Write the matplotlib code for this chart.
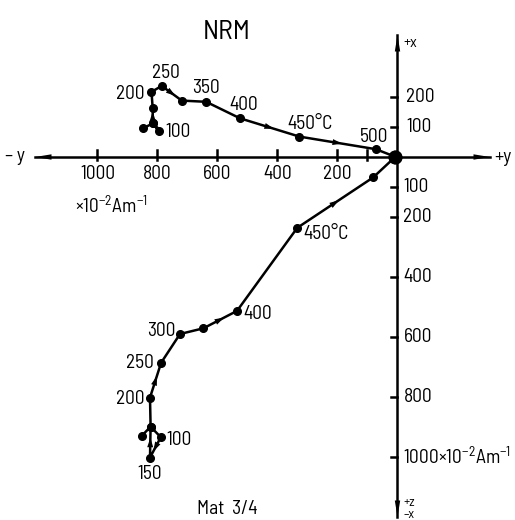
import matplotlib
matplotlib.use("Agg")
import matplotlib.pyplot as plt
from matplotlib import font_manager
import numpy as np

# ---------------- data (units: 10^-2 A/m) ----------------
# horizontal projection (north x vs east y); negative h = -y side
hor_h = [-847, -816, -794, -816, -816, -820, -786, -719, -638, -525, -327, -72, -8]
hor_v = [96, 112, 88, 112, 162, 217, 237, 188, 184, 129, 68, 26, 1]
hor_labels = ["", "", "100", "", "", "200", "250", "", "350", "400", "450°C", "500", ""]

# vertical projection (z vs y); negative v = +z (down)
ver_h = [-853, -823, -789, -825, -823, -825, -788, -725, -647, -535, -334, -81, -8]
ver_v = [-930, -899, -934, -1002, -899, -802, -686, -590, -571, -513, -236, -68, 0]
ver_labels = ["", "", "100", "150", "", "200", "250", "300", "", "400", "450°C", "", ""]

# segments carrying direction arrows (index of segment start)
hor_arrow_segs = [2, 3, 6, 9, 10]
ver_arrow_segs = [2, 3, 5, 8, 10]

y_ticks = [100, 200, 400, 600, 800, 1000]
y_ticklabels = ["", "200", "400", "600", "800", "1000"]
x_up_ticks = [100, 200]
x_down_ticks = [100, 200, 400, 600, 800, 1000]
title = "NRM"
sample = "Mat  3/4"
unit = r"$\times$10$^{-2}$Am$^{-1}$"

# ---------------- fonts ----------------
avail = {f.name for f in font_manager.fontManager.ttflist}
fam = "DejaVu Sans"
for cand in ["Barlow Semi Condensed", "Roboto Condensed", "PT Sans Narrow", "Archivo Narrow"]:
    if cand in avail:
        fam = cand
        break
plt.rcParams["font.family"] = [fam, "DejaVu Sans"]
plt.rcParams["mathtext.fontset"] = "custom"
plt.rcParams["mathtext.rm"] = fam
plt.rcParams["mathtext.it"] = fam
plt.rcParams["mathtext.bf"] = fam
plt.rcParams["mathtext.sf"] = fam

FS = 14

# ---------------- figure ----------------
S = 0.3  # px per unit
fig = plt.figure(figsize=(5.15, 5.2), dpi=100)
ax = fig.add_axes([0, 0, 1, 1])
ax.set_xlim(-397.5 / S, (515 - 397.5) / S)
ax.set_ylim((157 - 520) / S, 157 / S)
ax.axis("off")

K = "black"
LW = 1.8

# axes lines
x_left, x_right = (35 - 397.5) / S, (490 - 397.5) / S
y_top, y_bot = (157 - 35) / S, (157 - 517) / S
ax.plot([x_left, x_right], [0, 0], color=K, lw=LW)
ax.plot([0, 0], [y_bot, y_top], color=K, lw=LW)

def head(tip, direction, length=55, half=9):
    d = np.array(direction, float)
    d /= np.hypot(*d)
    n = np.array([-d[1], d[0]])
    t = np.array(tip, float)
    b = t - d * length
    pts = np.array([t, b + n * half, b - n * half])
    ax.fill(pts[:, 0], pts[:, 1], color=K, lw=0, zorder=5)

head((x_left, 0), (-1, 0))
head((x_right, 0), (1, 0))
head((0, y_top), (0, 1))
head((0, y_bot), (0, -1))

# ticks on horizontal axis (-y side)
for t in y_ticks:
    ax.plot([-t, -t], [-10, 23], color=K, lw=LW)
for t, lab in zip(y_ticks, y_ticklabels):
    if lab:
        ax.text(-t, -57, lab, ha="center", va="center", fontsize=FS)
ax.text((75 - 397.5) / S, (157 - 206) / S, unit, ha="left", va="center", fontsize=FS)

# ticks on vertical axis
for t in x_up_ticks:
    ax.plot([-20, 0], [t, t], color=K, lw=LW)
    ax.text(30, t, str(t), ha="left", va="center", fontsize=FS)
for t in x_down_ticks:
    ax.plot([-20, 0], [-t, -t], color=K, lw=LW)
    lab = str(t) if t != 1000 else "1000" + unit
    ax.text(20, -t, lab, ha="left", va="center", fontsize=FS)

# axis names
ax.text((15 - 397.5) / S, 3, "– y", ha="center", va="center", fontsize=FS)
ax.text((503 - 397.5) / S, 0, "+y", ha="center", va="center", fontsize=FS)
ax.text(20, (157 - 43) / S, "+x", ha="left", va="center", fontsize=11)
ax.text(20, (157 - 502) / S, "+z", ha="left", va="center", fontsize=9.5)
ax.text(20, (157 - 515) / S, "–x", ha="left", va="center", fontsize=9.5)

ax.text((227 - 397.5) / S, (157 - 32) / S, title, ha="center", va="center", fontsize=20)
ax.text((227 - 397.5) / S, (157 - 509) / S, sample, ha="center", va="center", fontsize=FS)

# ---------------- data paths ----------------
def draw_path(hh, vv, labels, arrow_segs, offsets):
    ax.plot(hh[:-1], vv[:-1], color=K, lw=LW, marker="o", ms=5.5, mfc=K, mec=K, zorder=3)
    ax.plot(hh[-2:], vv[-2:], color=K, lw=LW, zorder=3)
    ax.plot(hh[-1], vv[-1], "o", color=K, ms=9, zorder=4)
    for i in arrow_segs:
        p0 = np.array([hh[i], vv[i]], float)
        p1 = np.array([hh[i + 1], vv[i + 1]], float)
        mid = (p0 + p1) / 2
        d = p1 - p0
        head(mid + d / np.hypot(*d) * 15, d, length=32, half=10)
    for i, lab in enumerate(labels):
        if lab:
            ax.annotate(lab, (hh[i], vv[i]), xytext=offsets[lab], textcoords="offset pixels",
                        ha="center", va="center", fontsize=FS)

hor_off = {"100": (19, -1), "200": (-21, -2), "250": (4, 13), "350": (0, 14),
           "400": (4, 13), "450°C": (11, 13), "500": (-2, 12)}
ver_off = {"100": (18, -3), "150": (0, -16), "200": (-20, -1), "250": (-21, 0),
           "300": (-19, 3), "400": (21, -3), "450°C": (29, -6)}

draw_path(hor_h, hor_v, hor_labels, hor_arrow_segs, hor_off)
draw_path(ver_h, ver_v, ver_labels, ver_arrow_segs, ver_off)

fig.savefig("out.png", dpi=100)
